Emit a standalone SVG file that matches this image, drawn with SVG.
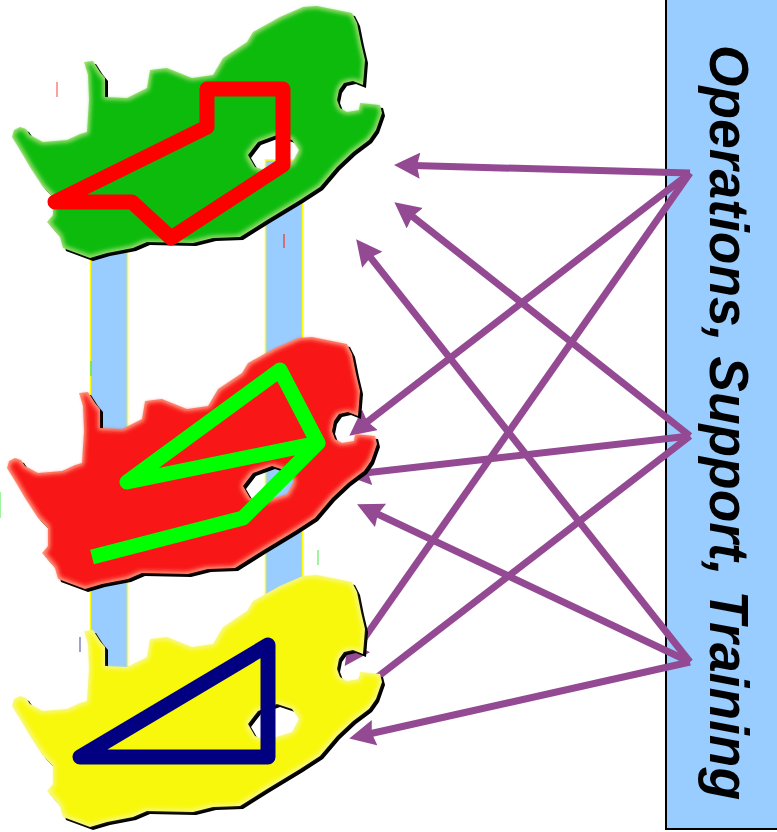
<svg xmlns="http://www.w3.org/2000/svg" xmlns:xlink="http://www.w3.org/1999/xlink" width="777" height="832" viewBox="0 0 777 832">
<style>
.bar{fill:#99ccff;stroke:#ffff00;stroke-width:1.5}
.arrow{fill:none;stroke:#934a93;stroke-width:7;marker-end:url(#head)}
.route{fill:none;stroke-width:15;stroke-linejoin:round;stroke-linecap:butt}
.shadow{fill:#000}
.tick{stroke-width:1.5;fill:none}
.label{font-family:"Liberation Sans",Arial,sans-serif;font-weight:bold;font-style:italic;font-size:55px;fill:#000}
</style>
<defs>
<marker id="head" markerUnits="userSpaceOnUse" markerWidth="30" markerHeight="28" refX="15" refY="13" orient="auto">
<path d="M0,0 L26,13 L0,26 L3,13 Z" fill="#934a93"/>
</marker>
<filter id="soft" x="-5%" y="-5%" width="110%" height="110%">
<feMorphology operator="erode" radius="2"/>
<feGaussianBlur stdDeviation="2"/>
</filter>
<path id="sa" fill-rule="evenodd" d="M12,137 L14,130 L20,127 L26,129 L30,135 L43,142 L67,140 L80,134 L87,132 L89,100 L88,75 L84,62 L93,61 L100,72 L105,78 L105,97 L127,98 L147,88 L150,70 L167,68 L192,78 L213,75 L223,58 L247,42 L253,32 L280,17 L303,7 L317,6 L352,13 L357,23 L361,43 L365,60 L363,85 L353,81 L344,83 L339,90 L337,100 L340,108 L347,112 L359,110 L360,103 L380,105 L382,113 L376,130 L369,140 L353,152 L337,167 L320,187 L300,200 L267,220 L240,237 L213,238 L193,243 L147,242 L133,248 L107,253 L90,258 L63,248 L60,237 L47,222 L53,215 L53,197 L43,187 L30,167 L20,150 Z M248,155 L258,142 L277,135 L292,140 L299,150 L292,163 L267,171 L255,167 Z"/>
</defs>
<rect width="777" height="832" fill="#fff"/>
<g id="bars">
<rect class="bar" x="90.5" y="240" width="37" height="440"/>
<rect class="bar" x="265.5" y="160" width="37" height="450"/>
</g>
<g id="panel">
<rect x="666" y="-3" width="114" height="832" fill="#99ccff" stroke="#000" stroke-width="2"/>
<text class="label" transform="translate(710,45) rotate(90)" textLength="755" lengthAdjust="spacingAndGlyphs">Operations, Support, Training</text>
</g>
<g id="connectors">
<line class="arrow" x1="690" y1="173" x2="405" y2="165.3"/>
<line class="arrow" x1="690" y1="173" x2="358" y2="429"/>
<line class="arrow" x1="690" y1="173" x2="351" y2="657"/>
<line class="arrow" x1="690" y1="436" x2="403" y2="209"/>
<line class="arrow" x1="690" y1="436" x2="356" y2="474"/>
<line class="arrow" x1="690" y1="436" x2="358" y2="692"/>
<line class="arrow" x1="690" y1="662" x2="363" y2="248"/>
<line class="arrow" x1="690" y1="662" x2="367" y2="509"/>
<line class="arrow" x1="690" y1="662" x2="360" y2="736"/>
</g>
<g id="map-green">
<use xlink:href="#sa" href="#sa" class="shadow" transform="translate(3,3)"/>
<use xlink:href="#sa" href="#sa" fill="#a8e078"/>
<use xlink:href="#sa" href="#sa" fill="#0fbb0f" filter="url(#soft)"/>
<polygon class="route" stroke="#ff0000" points="55,202 207,127 207,89 283,89 283,165 171,238 132,202"/>
</g>
<g id="map-red">
<use xlink:href="#sa" href="#sa" class="shadow" transform="translate(-2,334)"/>
<use xlink:href="#sa" href="#sa" fill="#ff9c80" transform="translate(-5,331)"/>
<use xlink:href="#sa" href="#sa" fill="#f81212" filter="url(#soft)" transform="translate(-5,331)"/>
<polyline class="route" stroke="#00ff00" points="92,557 243,518 318,443 280,370 127,482 318,443"/>
</g>
<g id="map-yellow">
<use xlink:href="#sa" href="#sa" class="shadow" transform="translate(3,572)"/>
<use xlink:href="#sa" href="#sa" fill="#f8f890" transform="translate(0,569)"/>
<use xlink:href="#sa" href="#sa" fill="#f8f810" filter="url(#soft)" transform="translate(0,569)"/>
<polygon class="route" stroke="#000080" points="80,757 268,645 268,757"/>
</g>
<g id="ticks">
<line class="tick" stroke="#ff8080" x1="57" y1="82" x2="57" y2="97"/>
<line class="tick" stroke="#e05050" x1="284" y1="234" x2="284" y2="248"/>
<line class="tick" stroke="#60e060" x1="91" y1="361" x2="91" y2="376"/>
<line class="tick" stroke="#80f080" x1="0" y1="492" x2="0" y2="518"/>
<line class="tick" stroke="#80f080" x1="318" y1="550" x2="318" y2="565"/>
<line class="tick" stroke="#8080c0" x1="80" y1="637" x2="80" y2="652"/>
</g>
</svg>
